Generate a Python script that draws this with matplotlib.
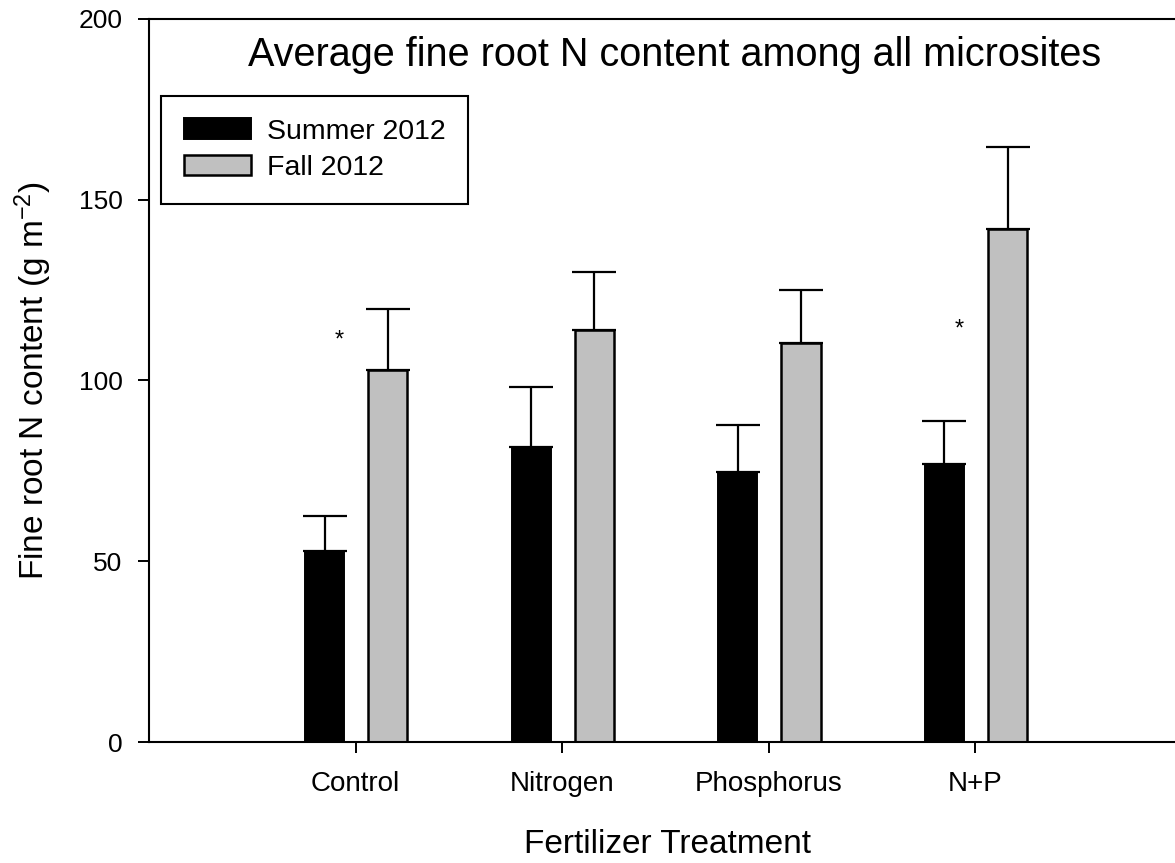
import matplotlib
matplotlib.use("Agg")
import matplotlib.pyplot as plt
import numpy as np

plt.rcParams["font.family"] = ["Liberation Sans", "DejaVu Sans"]
plt.rcParams["mathtext.fontset"] = "custom"
plt.rcParams["mathtext.rm"] = "Liberation Sans"

treatments = ["Control", "Nitrogen", "Phosphorus", "N+P"]
summer_mean = [52.7, 81.5, 74.6, 76.9]
summer_se = [9.9, 16.6, 13.1, 12.0]
fall_mean = [102.8, 114.1, 110.5, 141.9]
fall_se = [16.9, 15.9, 14.6, 22.8]
sig_y = [111, None, None, 114]   # asterisk heights (summer vs fall difference)

fig = plt.figure(figsize=(11.75, 8.63), dpi=100)
ax = fig.add_axes([149 / 1175, 1 - 742 / 863, 1033 / 1175, 723 / 863])

x = np.arange(1, len(treatments) + 1)
off, w = 0.15, 0.19
err_kw = dict(ecolor="black", elinewidth=1.6, capsize=16, capthick=1.6)
ax.bar(x - off, summer_mean, w, color="black", edgecolor="black", linewidth=1.4,
       yerr=[np.zeros(4), summer_se], error_kw=err_kw, label="Summer 2012", zorder=2)
ax.bar(x + off + 0.006, fall_mean, w, color="#c0c0c0", edgecolor="black", linewidth=1.8,
       yerr=[np.zeros(4), fall_se], error_kw=err_kw, label="Fall 2012", zorder=2)

for xi, s in zip(x, sig_y):
    if s is not None:
        ax.text(xi - 0.08, s, "*", ha="center", va="center", fontsize=17)

ax.set_xlim(0, 5)
ax.set_ylim(0, 200)
ax.set_yticks([0, 50, 100, 150, 200])
ax.set_xticks(x)
ax.set_xticklabels(treatments)
ax.tick_params(axis="both", direction="out", length=8, width=1.4)
ax.tick_params(axis="y", pad=11, labelsize=19)
ax.tick_params(axis="x", pad=13, labelsize=20)
for side in ["left", "top", "bottom"]:
    ax.spines[side].set_linewidth(1.5)
ax.spines["right"].set_visible(False)

ax.set_ylabel(r"Fine root N content (g m$\mathregular{^{-2}}$)", fontsize=24)
ax.yaxis.set_label_coords(-0.092, 0.5)
ax.set_xlabel("Fertilizer Treatment", fontsize=24)
ax.xaxis.set_label_coords(0.502, -0.12)

ax.text(0.509, 0.95, "Average fine root N content among all microsites",
        transform=ax.transAxes, ha="center", va="center", fontsize=28.5)

leg = ax.legend(loc="upper left", bbox_to_anchor=(0.0115, 0.894), fontsize=20.5,
                frameon=True, fancybox=False, edgecolor="black", framealpha=1,
                handlelength=2.35, handleheight=0.74, labelspacing=0.35,
                borderpad=0.8, handletextpad=0.56, borderaxespad=0)
leg.get_frame().set_linewidth(1.5)

fig.savefig("out.png", dpi=100)
